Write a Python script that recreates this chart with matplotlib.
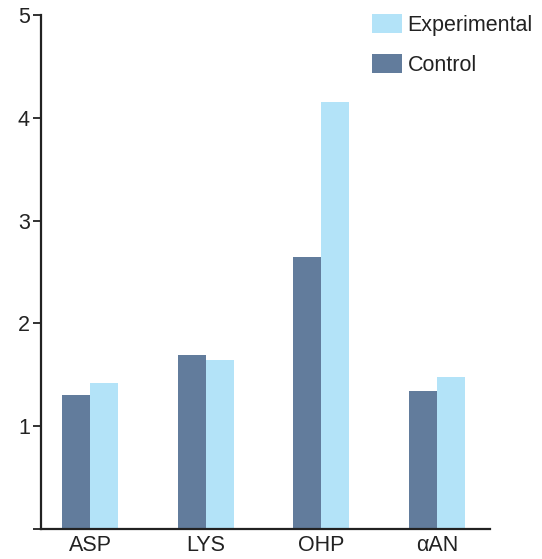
import matplotlib
matplotlib.use("Agg")
import matplotlib.pyplot as plt
import numpy as np

categories = ["ASP", "LYS", "OHP", "\u03b1AN"]
control = [1.30, 1.69, 2.65, 1.34]
experimental = [1.42, 1.64, 4.15, 1.48]
yticks = [0, 1, 2, 3, 4, 5]
yticklabels = ["", "1", "2", "3", "4", "5"]

plt.rcParams['font.family'] = ['Liberation Sans', 'DejaVu Sans']

W, H = 542, 559
y0, y5 = 529.0, 15.0
xl, xr = 41.0, 490.0
fig = plt.figure(figsize=(W / 100, H / 100), dpi=100)
ax = fig.add_axes([xl / W, (H - y0) / H, (xr - xl) / W, (y0 - y5) / H])

c_ctrl = "#627C9C"
c_exp = "#B3E3F8"
x = np.arange(len(categories))
w = 0.242
ax.bar(x - w / 2, control, w, color=c_ctrl, label="Control")
ax.bar(x + w / 2, experimental, w, color=c_exp, label="Experimental")

ax.set_xlim(-0.424, 3.458)
ax.set_ylim(0, 5)
ax.set_yticks(yticks)
ax.set_yticklabels(yticklabels)
ax.set_xticks(x)
ax.set_xticklabels(categories)
ax.tick_params(axis='y', length=6, width=1.3, labelsize=15.5, pad=2, color="#222222", labelcolor="#222222")
ax.tick_params(axis='x', length=0, labelsize=15.5, pad=4, labelcolor="#222222")
for s in ["top", "right"]:
    ax.spines[s].set_visible(False)
for s in ["left", "bottom"]:
    ax.spines[s].set_linewidth(1.6)
    ax.spines[s].set_color("#222222")

handles, labels = ax.get_legend_handles_labels()
leg = ax.legend(handles[::-1], labels[::-1], loc="upper left",
                bbox_to_anchor=((372 - xl) / (xr - xl) - 0.019, 1.018),
                frameon=False, fontsize=15.5, handlelength=1.4, handleheight=0.93,
                labelspacing=0.85, handletextpad=0.25, borderaxespad=0)
for t in leg.get_texts():
    t.set_color("#222222")

fig.savefig("out.png", dpi=100)
